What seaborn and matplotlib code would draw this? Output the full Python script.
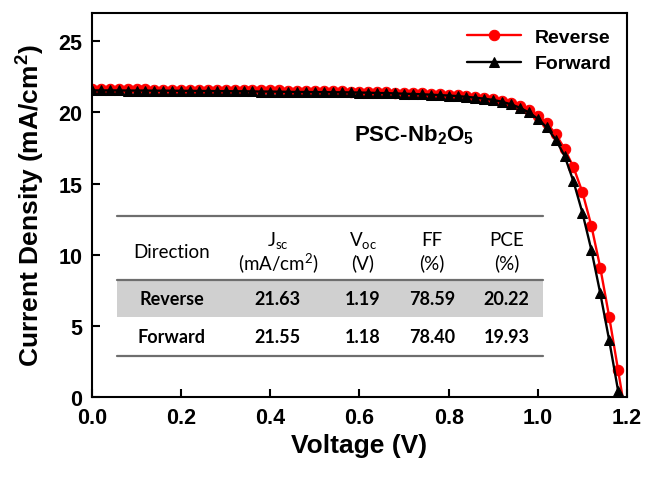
import pandas as pd
import seaborn as sns
import matplotlib.pyplot as plt
from matplotlib.patches import Rectangle

# J-V data (V in volts, J in mA/cm2)
voltage_fwd = [0.00, 0.02, 0.04, 0.06, 0.08, 0.10, 0.12, 0.14, 0.16, 0.18,
               0.20, 0.22, 0.24, 0.26, 0.28, 0.30, 0.32, 0.34, 0.36, 0.38,
               0.40, 0.42, 0.44, 0.46, 0.48, 0.50, 0.52, 0.54, 0.56, 0.58,
               0.60, 0.62, 0.64, 0.66, 0.68, 0.70, 0.72, 0.74, 0.76, 0.78,
               0.80, 0.82, 0.84, 0.86, 0.88, 0.90, 0.92, 0.94, 0.96, 0.98,
               1.00, 1.02, 1.04, 1.06, 1.08, 1.10, 1.12, 1.14, 1.16, 1.18]
j_fwd = [21.55, 21.55, 21.55, 21.55, 21.54, 21.54, 21.54, 21.53, 21.53, 21.53,
         21.52, 21.52, 21.51, 21.51, 21.50, 21.50, 21.49, 21.49, 21.48, 21.47,
         21.47, 21.46, 21.45, 21.44, 21.44, 21.43, 21.43, 21.42, 21.42, 21.41,
         21.40, 21.39, 21.37, 21.36, 21.34, 21.32, 21.30, 21.28, 21.25, 21.22,
         21.19, 21.15, 21.10, 21.04, 20.97, 20.88, 20.75, 20.57, 20.33, 20.00,
         19.55, 18.95, 18.10, 16.95, 15.15, 12.95, 10.35, 7.30, 4.00, 0.45]

voltage_rev = [0.00, 0.02, 0.04, 0.06, 0.08, 0.10, 0.12, 0.14, 0.16, 0.18,
               0.20, 0.22, 0.24, 0.26, 0.28, 0.30, 0.32, 0.34, 0.36, 0.38,
               0.40, 0.42, 0.44, 0.46, 0.48, 0.50, 0.52, 0.54, 0.56, 0.58,
               0.60, 0.62, 0.64, 0.66, 0.68, 0.70, 0.72, 0.74, 0.76, 0.78,
               0.80, 0.82, 0.84, 0.86, 0.88, 0.90, 0.92, 0.94, 0.96, 0.98,
               1.00, 1.02, 1.04, 1.06, 1.08, 1.10, 1.12, 1.14, 1.16, 1.18, 1.20]
j_rev = [21.63, 21.63, 21.63, 21.62, 21.62, 21.62, 21.62, 21.61, 21.61, 21.61,
         21.60, 21.60, 21.60, 21.59, 21.59, 21.58, 21.58, 21.57, 21.57, 21.56,
         21.55, 21.55, 21.54, 21.53, 21.52, 21.51, 21.50, 21.49, 21.48, 21.47,
         21.46, 21.45, 21.43, 21.42, 21.40, 21.38, 21.36, 21.34, 21.31, 21.28,
         21.25, 21.21, 21.17, 21.11, 21.04, 20.95, 20.83, 20.67, 20.46, 20.17,
         19.78, 19.25, 18.50, 17.45, 16.15, 14.40, 12.05, 9.10, 5.65, 1.90, -1.90]

# photovoltaic parameters table
table_header = ['Direction', r'$\mathregular{J_{sc}}$', r'$\mathregular{V_{oc}}$', 'FF', 'PCE']
table_units = ['', r'(mA/cm$\mathregular{^2}$)', '(V)', '(%)', '(%)']
table_rows = [['Reverse', '21.63', '1.19', '78.59', '20.22'],
              ['Forward', '21.55', '1.18', '78.40', '19.93']]

sns.set_style('ticks')
plt.rcParams['font.family'] = ['Liberation Sans', 'DejaVu Sans']
plt.rcParams['mathtext.fontset'] = 'custom'
plt.rcParams['mathtext.rm'] = 'Liberation Sans'
plt.rcParams['mathtext.bf'] = 'Liberation Sans:bold'
for key in ['text.color', 'axes.labelcolor', 'xtick.color', 'ytick.color']:
    plt.rcParams[key] = 'black'

fig = plt.figure(figsize=(6.5, 4.81), dpi=100)
ax = fig.add_axes([0.1415, 0.1726, 0.8231, 0.7985])

df_rev = pd.DataFrame({'V': voltage_rev, 'J': j_rev})
df_fwd = pd.DataFrame({'V': voltage_fwd, 'J': j_fwd})
sns.lineplot(data=df_rev, x='V', y='J', ax=ax, sort=False, color='#ff0000',
             marker='o', markersize=7.5, markeredgecolor='#ff0000', linewidth=1.7,
             label='Reverse')
sns.lineplot(data=df_fwd, x='V', y='J', ax=ax, sort=False, color='black',
             marker='^', markersize=7.5, markeredgecolor='black', linewidth=1.7,
             label='Forward')

ax.set_xlim(0, 1.2)
ax.set_ylim(0, 27)
ax.set_xticks([0, 0.2, 0.4, 0.6, 0.8, 1.0, 1.2])
ax.set_xticklabels(['0.0', '0.2', '0.4', '0.6', '0.8', '1.0', '1.2'])
ax.set_yticks([0, 5, 10, 15, 20, 25])
ax.tick_params(direction='in', length=6, width=1.5, labelsize=15.5, pad=7,
               colors='black')
for lab in ax.get_xticklabels() + ax.get_yticklabels():
    lab.set_fontweight('bold')
for sp in ax.spines.values():
    sp.set_linewidth(1.5)
    sp.set_color('black')

ax.set_xlabel('Voltage (V)', fontsize=19, fontweight='bold', labelpad=4)
ax.set_ylabel(r'Current Density (mA/cm$\mathbf{^2}$)', fontsize=19,
              fontweight='bold', labelpad=8)

ax.legend(loc='upper right', frameon=False, prop={'weight': 'bold', 'size': 14},
          handlelength=2.8, handletextpad=0.7, labelspacing=0.45,
          borderaxespad=0.4)

ax.text(0.722, 18.5, r'PSC-Nb$_\mathbf{2}$O$_\mathbf{5}$', fontsize=16,
        fontweight='bold', ha='center', va='center')

# inset table drawn in data coordinates
tx0, tx1 = 0.056, 1.011
col_x = [0.179, 0.417, 0.608, 0.762, 0.930]
line_kw = dict(color='#6e6e6e', linewidth=1.6, zorder=3)
ax.add_patch(Rectangle((tx0, 5.63), tx1 - tx0, 8.24 - 5.63,
                       facecolor='#d0d0d0', edgecolor='none', zorder=1))
ax.plot([tx0, tx1], [12.75, 12.75], **line_kw)
ax.plot([tx0, tx1], [8.24, 8.24], **line_kw)
ax.plot([tx0, tx1], [2.89, 2.89], **line_kw)

tfont = ['Lato', 'DejaVu Sans']
ax.text(col_x[0], 10.25, table_header[0], family=tfont, fontsize=13.5,
        ha='center', va='center')
for x, h, u in zip(col_x[1:], table_header[1:], table_units[1:]):
    ax.text(x, 11.05, h, family=tfont, fontsize=13.5, ha='center', va='center')
    ax.text(x, 9.5, u, family=tfont, fontsize=13.5, ha='center', va='center')
for y, row in zip([6.9, 4.23], table_rows):
    for x, val in zip(col_x, row):
        ax.text(x, y, val, family=tfont, fontsize=13, fontweight='bold',
                ha='center', va='center')

plt.savefig('out.png', dpi=100)
